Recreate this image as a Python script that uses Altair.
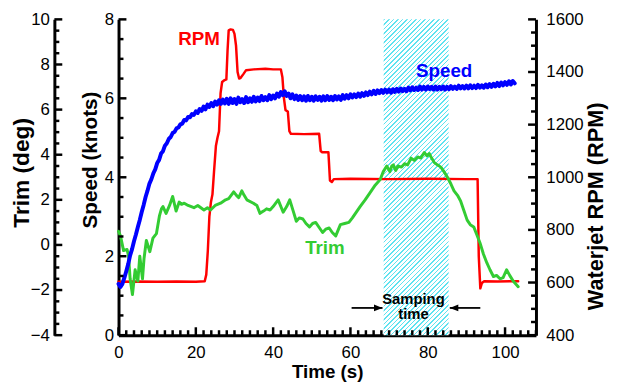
import altair as alt
import pandas as pd

# ---------------- data ----------------
# Speed (knots), sampled every 0.5 s from t = 0
speed_v = [
    1.30, 1.22, 1.30, 1.45, 1.62, 1.80, 2.02, 2.18, 2.38, 2.55,
    2.74, 2.92, 3.12, 3.30, 3.50, 3.66, 3.84, 3.95, 4.10, 4.20,
    4.36, 4.44, 4.60, 4.66, 4.80, 4.86, 4.97, 5.02, 5.12, 5.15,
    5.24, 5.26, 5.34, 5.36, 5.45, 5.44, 5.53, 5.52, 5.60, 5.58,
    5.67, 5.63, 5.73, 5.68, 5.79, 5.72, 5.84, 5.78, 5.88, 5.80,
    5.92, 5.84, 5.95, 5.86, 5.97, 5.87, 5.99, 5.86, 6.00, 5.88,
    5.98, 5.86, 6.02, 5.90, 5.98, 5.88, 6.03, 5.90, 6.00, 5.91,
    6.04, 5.92, 6.02, 5.93, 6.06, 5.95, 6.03, 5.95, 6.08, 5.98,
    6.07, 6.00, 6.12, 6.04, 6.16, 6.08, 6.18, 6.06, 6.12, 6.00,
    6.10, 5.98, 6.07, 5.96, 6.06, 5.95, 6.05, 5.94, 6.06, 5.95,
    6.04, 5.94, 6.05, 5.96, 6.04, 5.94, 6.05, 5.95, 6.06, 5.96,
    6.04, 5.95, 6.06, 5.97, 6.05, 5.96, 6.08, 5.99, 6.08, 6.00,
    6.10, 6.02, 6.10, 6.03, 6.12, 6.04, 6.13, 6.06, 6.15, 6.08,
    6.17, 6.10, 6.19, 6.11, 6.20, 6.13, 6.21, 6.14, 6.22, 6.15,
    6.22, 6.14, 6.23, 6.16, 6.24, 6.17, 6.25, 6.18, 6.24, 6.18,
    6.27, 6.20, 6.28, 6.21, 6.27, 6.21, 6.30, 6.22, 6.29, 6.22,
    6.30, 6.23, 6.29, 6.22, 6.30, 6.22, 6.29, 6.23, 6.30, 6.22,
    6.29, 6.23, 6.31, 6.24, 6.30, 6.24, 6.32, 6.25, 6.31, 6.25,
    6.32, 6.25, 6.33, 6.26, 6.32, 6.26, 6.34, 6.27, 6.33, 6.27,
    6.35, 6.28, 6.36, 6.29, 6.37, 6.30, 6.39, 6.31, 6.40, 6.33,
    6.41, 6.34, 6.43, 6.35, 6.44, 6.38,
]
speed_t = [i * 0.5 for i in range(len(speed_v))]

# Waterjet RPM
rpm_t = [0, 5, 10, 15, 20, 22.3, 22.7, 23.1, 23.5, 23.9,
         24.3, 24.7, 25.2, 25.6, 26.0, 26.4, 26.8, 27.3, 27.9, 28.2,
         28.5, 29.0, 29.6, 30.0, 30.4, 30.8, 31.2, 31.6, 32.3, 33.0,
         35.0, 38.0, 40.0, 42.0, 42.4, 42.8, 43.2, 43.8, 44.2, 44.6,
         48.0, 51.9, 52.3, 52.7, 54.3, 54.7, 55.2, 55.7, 60, 70,
         80, 90, 92.9, 93.2, 93.6, 94.0, 94.6, 98, 103.4]
rpm_v = [603, 604, 603, 604, 603, 605, 630, 720, 850, 905,
         935, 1020, 1120, 1150, 1175, 1320, 1362, 1368, 1372, 1480,
         1558, 1562, 1560, 1545, 1500, 1400, 1375, 1378, 1392, 1407,
         1410, 1412, 1410, 1410, 1380, 1300, 1255, 1250, 1175, 1165,
         1164, 1165, 1100, 1095, 1095, 988, 982, 993, 994, 993,
         994, 993, 993, 700, 578, 598, 605, 604, 605]

# Trim (deg)
trim_t = [0, 0.5, 1.3, 2.2, 2.6, 3.0, 3.6, 4.3, 5.0, 5.5,
          6.2, 6.6, 7.2, 8.1, 8.9, 9.8, 10.6, 11.1, 11.5, 12.3,
          13.2, 14.0, 14.9, 15.7, 16.3, 17.0, 18.0, 19.5, 20.5, 22.1,
          23.0, 23.8, 25.0, 26.4, 27.7, 28.5, 29.8, 30.5, 31.1, 31.9,
          32.5, 33.2, 34.9, 35.8, 36.6, 37.5, 38.3, 39.2, 40.0, 41.3,
          42.6, 43.5, 44.3, 45.2, 46.0, 46.8, 47.7, 48.5, 49.4, 50.2,
          51.0, 52.0, 52.8, 53.6, 54.5, 55.3, 56.2, 57.4, 58.5, 59.6,
          60.5, 61.3, 62.5, 63.8, 65.0, 66.4, 67.7, 68.5, 69.4, 70.2,
          70.7, 71.1, 71.7, 72.3, 73.2, 74.0, 74.8, 75.7, 76.5, 77.4,
          78.2, 79.1, 79.8, 80.4, 81.0, 81.7, 82.5, 83.4, 84.2, 85.1,
          86.0, 86.8, 87.7, 88.5, 89.3, 90.2, 91.0, 91.9, 92.7, 93.6,
          94.4, 95.3, 96.1, 97.0, 97.8, 98.7, 99.5, 100.4, 101.2, 102.1,
          103.4]
trim_v = [0.6, 0.4, -0.25, -0.2, -0.5, -1.5, -2.2, -1.1, -1.6, -0.5,
          -1.5, -0.6, 0.2, -0.3, 0.3, 0.5, 1.3, 1.6, 1.7, 1.4,
          1.75, 2.15, 1.5, 1.9, 1.8, 1.85, 1.75, 1.65, 1.75, 1.55,
          1.65, 1.55, 1.75, 1.85, 2.0, 2.05, 2.35, 2.2, 2.1, 2.4,
          2.2, 2.0, 1.85, 1.75, 1.4, 1.5, 1.6, 1.55, 1.7, 2.0,
          1.45, 1.7, 2.0, 1.5, 1.05, 1.2, 1.15, 0.95, 0.8, 0.95,
          1.0, 0.75, 0.55, 0.7, 0.75, 0.55, 0.4, 0.9, 0.95, 1.0,
          1.2, 1.4, 1.7, 2.0, 2.3, 2.65, 2.9, 3.25, 3.5, 3.25,
          3.5, 3.55, 3.3, 3.5, 3.45, 3.6, 3.55, 3.85, 3.75, 3.9,
          3.85, 4.1, 3.95, 4.05, 3.85, 3.65, 3.55, 3.45, 3.25, 3.0,
          2.7, 2.4, 2.2, 1.95, 1.55, 1.1, 0.9, 0.8, 0.45, 0.05,
          -0.4, -0.8, -1.1, -1.4, -1.35, -1.5, -1.45, -1.1, -1.35, -1.6,
          -1.85]

# Sampling window (s)
band_t = [68.6, 85.4]

# Axis domains and tick labels
x_domain = [0, 108]
trim_domain = [-4, 10]
speed_domain = [0, 8]
rpm_domain = [400, 1600]
x_labels = [0, 20, 40, 60, 80, 100]
trim_labels = [-4, -2, 0, 2, 4, 6, 8, 10]
speed_labels = [0, 2, 4, 6, 8]
rpm_labels = [400, 600, 800, 1000, 1200, 1400, 1600]

# Annotations (positions in time / speed units)
note_text = ["RPM", "Speed", "Trim", "Samping", "time"]
note_t = [20.85, 84.25, 53.4, 76.3, 76.3]
note_v = [7.36, 6.55, 2.05, 0.80, 0.42]
note_color = ["#ff0000", "#0000ff", "#33cc33", "#000000", "#000000"]
note_size = [19, 19, 19, 15, 15]
arrow_tail = [60.3, 93.6]
arrow_tip = [68.3, 85.7]
arrow_v = 0.69

# ---------------- chart ----------------
W, H = 423, 320
RED, BLUE, GREEN = "#ff0000", "#0000ff", "#33cc33"
FONT = "Liberation Sans"

xs = alt.Scale(domain=x_domain, nice=False, zero=False)
trim_s = alt.Scale(domain=trim_domain, nice=False, zero=False)
speed_s = alt.Scale(domain=speed_domain, nice=False, zero=False)
rpm_s = alt.Scale(domain=rpm_domain, nice=False, zero=False)

x_axis = alt.Axis(orient="bottom", values=x_labels, title="Time (s)", titleFontSize=19,
                  labelPadding=10, titlePadding=2, labelFlush=False, format="d")


def X(field):
    # every layer carries the same x axis so the shared axis merges cleanly
    return alt.X(field, scale=xs, axis=x_axis)


speed_df = pd.DataFrame({"t": speed_t, "v": speed_v})
rpm_df = pd.DataFrame({"t": rpm_t, "v": rpm_v})
trim_df = pd.DataFrame({"t": trim_t, "v": trim_v})

# hatch fill for sampling window, built as a striped gradient
bw = (band_t[1] - band_t[0]) * W / (x_domain[1] - x_domain[0])
bh = H
k = (bw + bh) / (bw ** 2 + bh ** 2)
diag = bw + bh
period = 4.6 / diag
lw = 1.5 / diag
HATCH = "#5ee3f0"
stops = []
o = 0.0
while o < 1.0:
    e = min(o + lw, 1.0)
    n = min(o + period, 1.0)
    stops += [alt.GradientStop(offset=round(o, 5), color=HATCH),
              alt.GradientStop(offset=round(e, 5), color=HATCH),
              alt.GradientStop(offset=round(e, 5), color="#ffffff"),
              alt.GradientStop(offset=round(n, 5), color="#ffffff")]
    o += period
hatch = alt.LinearGradient(gradient="linear", stops=stops,
                           x1=0, y1=0, x2=bw * k, y2=bh * k)

band = alt.Chart(pd.DataFrame({"a": [band_t[0]], "b": [band_t[1]]})).mark_rect(
    fill=hatch, strokeWidth=0
).encode(x=X("a:Q"), x2="b:Q")

line_style = dict(strokeJoin="round", strokeCap="round")

rpm_line = alt.Chart(rpm_df).mark_line(color=RED, strokeWidth=2.5, **line_style).encode(
    x=X("t:Q"),
    y=alt.Y("v:Q", scale=rpm_s, axis=alt.Axis(
        orient="right", values=rpm_labels, title="Waterjet RPM (RPM)", format="d",
        titleFontSize=22, titleAngle=270, titleBaseline="top",
        labelPadding=10, titlePadding=3, titleY=189)),
)
trim_line = alt.Chart(trim_df).mark_line(color=GREEN, strokeWidth=3, **line_style).encode(
    x=X("t:Q"),
    y=alt.Y("v:Q", scale=trim_s, axis=alt.Axis(
        orient="left", offset=65, values=trim_labels, title="Trim (deg)",
        titleFontSize=23, labelPadding=5, titlePadding=-3, titleY=155)),
)
speed_line = alt.Chart(speed_df).mark_line(color=BLUE, strokeWidth=4, **line_style).encode(
    x=X("t:Q"),
    y=alt.Y("v:Q", scale=speed_s, axis=alt.Axis(
        orient="left", values=speed_labels, title="Speed (knots)",
        titleFontSize=21, labelPadding=5, titlePadding=4, titleY=142)),
)


def yticks(values, scale, x0, x1):
    return alt.Chart(pd.DataFrame({"v": values})).mark_rule(
        color="black", strokeWidth=2.5).encode(
        y=alt.Y("v:Q", scale=scale, axis=None),
        x=alt.value(x0), x2=alt.value(x1))


def halfsteps(lo, hi, step):
    out = []
    v = lo
    while v <= hi + 1e-9:
        out.append(round(v, 4))
        v += step
    return out


trim_minor = [v for v in halfsteps(-4, 10, 0.5) if v not in trim_labels]
speed_minor = [v for v in halfsteps(0, 8, 0.5) if v not in speed_labels]
rpm_minor = [v for v in halfsteps(400, 1600, 50) if v not in rpm_labels]
x_minor = [v for v in halfsteps(0, 108, 2) if v not in x_labels]

tick_layers = [
    yticks(trim_labels, trim_s, -65, -57), yticks(trim_minor, trim_s, -65, -60),
    yticks(speed_labels, speed_s, 0, 8), yticks(speed_minor, speed_s, 0, 5),
    yticks(rpm_labels, rpm_s, W, W - 8), yticks(rpm_minor, rpm_s, W, W - 5),
]
for vals, ln in ((x_labels, 8), (x_minor, 5)):
    tick_layers.append(
        alt.Chart(pd.DataFrame({"t": vals})).mark_rule(color="black", strokeWidth=2.5).encode(
            x=X("t:Q"), y=alt.value(H), y2=alt.value(H - ln)))

notes_df = pd.DataFrame({"t": note_t, "v": note_v, "text": note_text,
                         "color": note_color, "size": note_size})
notes = alt.Chart(notes_df).mark_text(font=FONT, fontWeight="bold", align="center",
                                      baseline="alphabetic").encode(
    x=X("t:Q"),
    y=alt.Y("v:Q", scale=speed_s, axis=None),
    text="text:N",
    color=alt.Color("color:N", scale=None),
    size=alt.Size("size:Q", scale=None),
)

arrow_df = pd.DataFrame({"a": arrow_tail, "b": arrow_tip, "v": [arrow_v, arrow_v]})
arrow_lines = alt.Chart(arrow_df).mark_rule(color="black", strokeWidth=1.8).encode(
    x=X("a:Q"), x2="b:Q",
    y=alt.Y("v:Q", scale=speed_s, axis=None))
head_r = alt.Chart(pd.DataFrame({"t": [arrow_tip[0]], "v": [arrow_v]})).mark_point(
    shape="M0,0L-1,-0.4L-1,0.4Z", filled=True, color="black", opacity=1, size=300
).encode(x=X("t:Q"), y=alt.Y("v:Q", scale=speed_s, axis=None))
head_l = alt.Chart(pd.DataFrame({"t": [arrow_tip[1]], "v": [arrow_v]})).mark_point(
    shape="M0,0L1,-0.4L1,0.4Z", filled=True, color="black", opacity=1, size=300
).encode(x=X("t:Q"), y=alt.Y("v:Q", scale=speed_s, axis=None))

chart = alt.layer(
    band, rpm_line, trim_line, speed_line, *tick_layers, notes, arrow_lines, head_r, head_l
).resolve_scale(y="independent").resolve_axis(y="independent").properties(
    width=W, height=H,
    autosize=alt.AutoSizeParams(type="none"),
    padding={"left": 112, "top": 9, "right": 74, "bottom": 50},
).configure_view(stroke=None).configure_axis(
    labelFont=FONT, titleFont=FONT, labelFontSize=17, titleFontWeight="bold",
    labelColor="black", titleColor="black", domainColor="black", domainWidth=3,
    grid=False, ticks=False, tickSize=0,
)

chart.save("out.html", embed_options={"renderer": "svg", "actions": False})
